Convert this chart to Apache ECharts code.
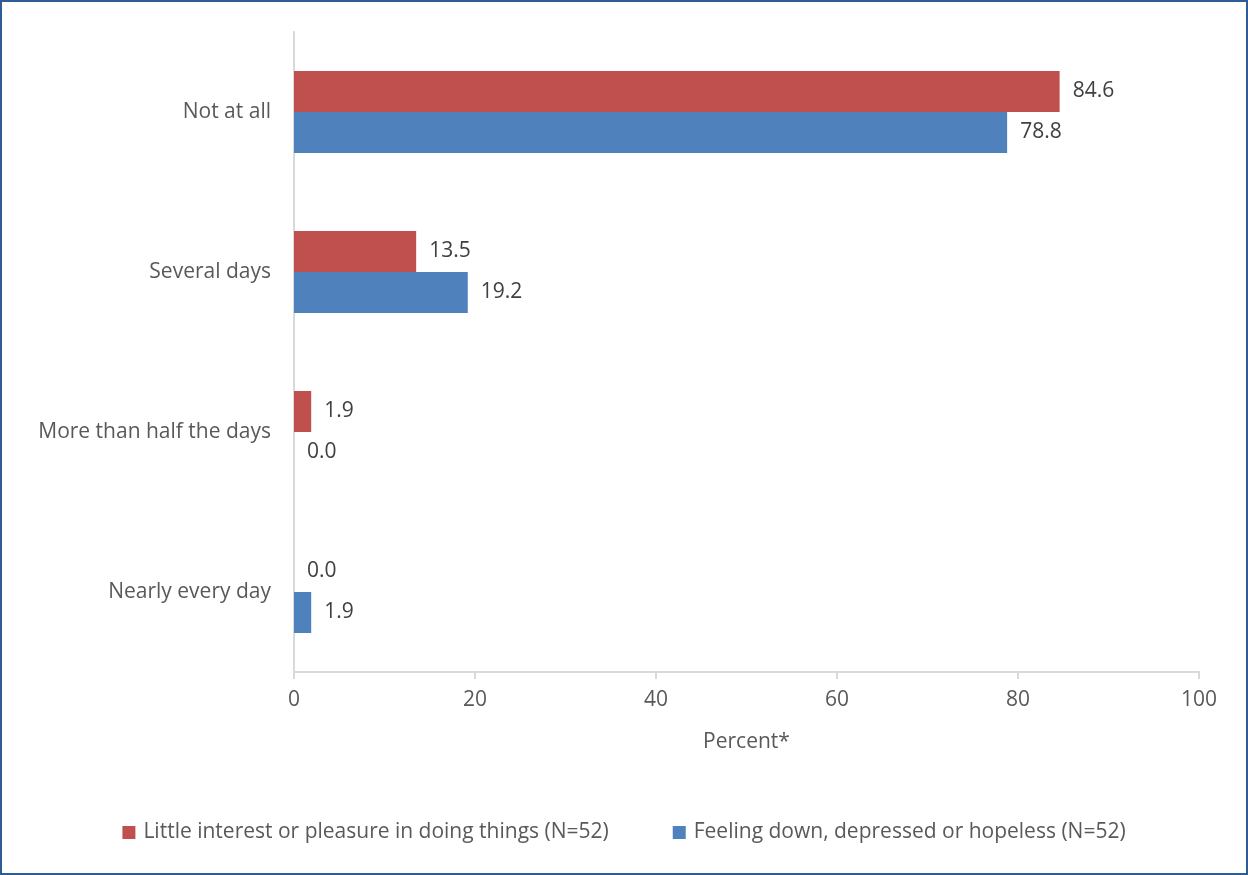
<!DOCTYPE html>
<html><head><meta charset="utf-8">
<script src="https://cdn.jsdelivr.net/npm/echarts@6/dist/echarts.min.js"></script>
<style>
html,body{margin:0;padding:0;background:#fff;}
#frame{position:absolute;left:0;top:0;width:1244px;height:871px;border:2px solid #2F5C94;}
#c{position:absolute;left:0;top:0;width:1248px;height:875px;}
</style></head>
<body><div id="frame"></div><div id="c"></div>
<script>
const categories = ["Not at all", "Several days", "More than half the days", "Nearly every day"];
const seriesNames = ["Little interest or pleasure in doing things (N=52)", "Feeling down, depressed or hopeless (N=52)"];
const littleInterest = [84.6, 13.5, 1.9, 0.0];
const feelingDown = [78.8, 19.2, 0.0, 1.9];
const xTicks = [0, 20, 40, 60, 80, 100];
const xTitle = "Percent*";

const FONT = "Open Sans";
const FS = 21;
const chart = echarts.init(document.getElementById('c'), null, {renderer:'canvas'});
const labelCfg = {show:true, position:'right', distance:13, color:'#404040', fontSize:FS, fontFamily:FONT,
  formatter: p => p.value.toFixed(1)};
chart.setOption({
  animation:false,
  textStyle:{fontFamily:FONT},
  grid:{left:294, right:49, top:32, bottom:203, containLabel:false},
  legend:{bottom:27, left:'center', itemWidth:13, itemHeight:13, itemGap:64,
    icon:'rect', textStyle:{fontSize:FS, color:'#595959', fontFamily:FONT, padding:[0,0,0,3]},
    data:seriesNames},
  xAxis:{type:'value', min:xTicks[0], max:xTicks[xTicks.length-1], interval:20,
    name:xTitle, nameLocation:'middle', nameGap:60,
    nameTextStyle:{fontSize:FS, color:'#595959', fontFamily:FONT},
    axisLine:{show:true, lineStyle:{color:'#D9D9D9', width:2}},
    axisTick:{show:true, length:7, lineStyle:{color:'#D9D9D9', width:2}},
    axisLabel:{fontSize:FS, color:'#595959', margin:18, fontFamily:FONT},
    splitLine:{show:false}},
  yAxis:{type:'category', inverse:true, data:categories,
    axisLine:{show:true, lineStyle:{color:'#D9D9D9', width:2}},
    axisTick:{show:false},
    axisLabel:{fontSize:FS, color:'#595959', margin:23, fontFamily:FONT}},
  series:[
    {name:seriesNames[0], type:'bar', data:littleInterest, barWidth:41, barGap:'0%',
      itemStyle:{color:'#C0504D'}, label:labelCfg},
    {name:seriesNames[1], type:'bar', data:feelingDown, barWidth:41, barGap:'0%',
      itemStyle:{color:'#4F81BD'}, label:labelCfg}
  ]
});
</script></body></html>
